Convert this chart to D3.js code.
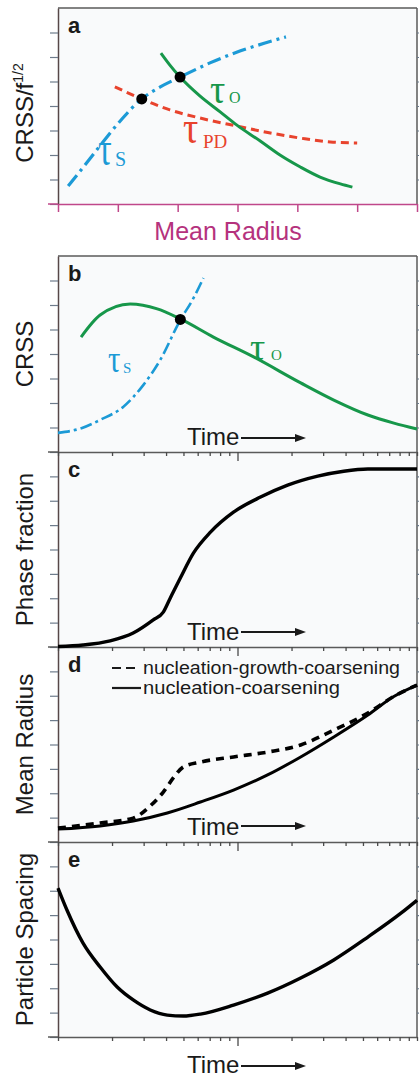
<!DOCTYPE html>
<html><head><meta charset="utf-8">
<script src="https://cdn.jsdelivr.net/npm/d3@7"></script>
<style>html,body{margin:0;padding:0;background:#fff;}svg{display:block}</style>
</head><body><svg id="chart" width="419" height="1079"></svg>
<script>
// ---------- data ----------
const radiusTicks = [0,1,2,3,4,5,6];
const levelTicks = [0,1,2,3,4,5,6,7];
const timeTicks = [1,2,3,4,5,6,7,8,9,10,20,30,40,50,60,70,80,90,100];

// panel a : CRSS/f^1/2 vs mean radius
const aTauS  = [[0.17,0.73],[0.45,1.59],[0.70,2.37],[1.04,3.39],[1.40,4.29],[1.71,4.78],[2.04,5.18],[2.54,5.76],[3.04,6.24],[3.46,6.57],[3.81,6.82]];
const aTauO  = [[1.72,6.16],[1.87,5.67],[2.04,5.18],[2.37,4.41],[2.71,3.76],[2.99,3.22],[3.38,2.57],[3.71,2.0],[4.05,1.51],[4.38,1.10],[4.72,0.82],[4.92,0.69]];
const aTauPD = [[0.95,4.78],[1.40,4.29],[1.87,3.84],[2.37,3.51],[2.99,3.18],[3.55,2.90],[4.05,2.69],[4.55,2.53],[5.0,2.49]];
const aDots  = [[1.40,4.29],[2.04,5.18]];

// panel b : CRSS vs time
const bTauS = [[1.0,0.78],[1.362,0.98],[1.717,1.31],[2.307,1.84],[2.985,2.73],[3.714,3.76],[4.803,5.39],[5.607,6.20],[6.458,7.10]];
const bTauO = [[1.344,4.69],[1.717,5.59],[2.525,6.04],[3.573,5.84],[4.803,5.43],[7.343,4.69],[12.29,3.88],[22.49,2.82],[34.39,2.12],[53.24,1.51],[74.36,1.18],[100,0.94]];
const bDots = [[4.803,5.41]];

// panel c : phase fraction
const cFrac = [[1.0,0.02],[1.379,0.08],[1.952,0.25],[2.624,0.57],[3.394,1.11],[3.860,1.43],[4.223,2.01],[4.803,2.83],[5.680,3.85],[7.068,4.71],[9.499,5.53],[13.44,6.15],[19.02,6.64],[27.99,7.01],[39.10,7.21],[53.24,7.30],[100,7.30]];

// panel d : mean radius
const dCoars = [[1.0,0.53],[1.717,0.66],[2.624,0.86],[4.063,1.19],[6.214,1.64],[9.499,2.13],[14.71,2.75],[22.49,3.49],[34.39,4.31],[53.24,5.21],[73.41,5.95],[100,6.44]];
const dGrowth = [[1.0,0.57],[1.717,0.78],[2.624,0.98],[3.266,1.48],[3.860,2.05],[4.389,2.63],[4.993,3.08],[6.214,3.28],[9.499,3.49],[14.71,3.69],[22.49,3.98],[34.39,4.59],[42.80,4.92],[53.24,5.29],[73.41,5.95],[100,6.44]];
const dLegend = ["nucleation-growth-coarsening","nucleation-coarsening"];

// panel e : particle spacing
const eSpacing = [[1.0,6.11],[1.123,5.20],[1.379,3.85],[1.717,2.87],[2.136,2.05],[2.624,1.52],[3.266,1.11],[4.063,0.90],[4.993,0.86],[6.214,0.94],[9.499,1.31],[14.71,1.80],[22.49,2.42],[34.39,3.16],[53.24,4.10],[81.38,5.08],[100,5.61]];

const panelLetters = ["a","b","c","d","e"];
const yLabels = ["CRSS/f","CRSS","Phase fraction","Mean Radius","Particle Spacing"];

// ---------- drawing ----------
const svg = d3.select("#chart");
const X0 = 58, X1 = 417;
const BLUE = "#1c9ad6", GREEN = "#17974a", RED = "#e8432d", PINK = "#c0478a";
const AXIS = "#574848", TICK = "#6e7c8c", FRAME = "#5a5a5a";
const SANS = "'Liberation Sans', Arial, sans-serif";
const SERIF = "'Liberation Serif', 'Times New Roman', serif";

svg.append("rect").attr("width",419).attr("height",1079).attr("fill","#fff");

const panels = [
  {top:8, bottom:204},
  {top:256, bottom:452},
  {top:452, bottom:647},
  {top:647, bottom:842},
  {top:842, bottom:1037}
];

const xr = d3.scaleLinear().domain([0,6]).range([X0,X1]);
const xt = d3.scaleLog().domain([1,100]).range([X0,X1]);

const yScales = panels.map(p => d3.scaleLinear().domain([0,8]).range([p.bottom,p.top]));

// backgrounds
panels.forEach(p => {
  svg.append("rect").attr("x",X0).attr("y",p.top).attr("width",X1-X0).attr("height",p.bottom-p.top)
     .attr("fill","#f9fafb");
});

// frames: top and right borders
panels.forEach((p,i) => {
  if (i<2) svg.append("line").attr("x1",X0).attr("x2",X1).attr("y1",p.top).attr("y2",p.top)
      .attr("stroke",FRAME).attr("stroke-width",1.5);
  svg.append("line").attr("x1",X1).attr("x2",X1).attr("y1",p.top).attr("y2",p.bottom)
      .attr("stroke",FRAME).attr("stroke-width",1.5);
  const ra = svg.append("g").attr("transform",`translate(${X1},0)`)
     .call(d3.axisRight(yScales[i]).tickValues(levelTicks.slice(1)).tickSize(4).tickSizeOuter(0).tickFormat(""));
  ra.select(".domain").remove();
  ra.selectAll(".tick line").attr("stroke",TICK).attr("stroke-width",1.2);
});

// left axes
panels.forEach((p,i) => {
  const ga = svg.append("g").attr("transform",`translate(${X0},0)`)
     .call(d3.axisLeft(yScales[i]).tickValues(levelTicks).tickSize(8).tickSizeOuter(0).tickFormat(""));
  ga.select(".domain").attr("stroke",AXIS).attr("stroke-width",1.5);
  ga.selectAll(".tick line").attr("stroke",TICK).attr("stroke-width",1.2);
});

// panel a bottom axis (pink)
{
  const p = panels[0];
  const g = svg.append("g").attr("transform",`translate(0,${p.bottom})`)
     .call(d3.axisBottom(xr).tickValues(radiusTicks).tickSize(8).tickSizeOuter(0).tickFormat(""));
  g.select(".domain").attr("stroke",PINK).attr("stroke-width",1.5);
  g.selectAll(".tick line").attr("stroke",PINK).attr("stroke-width",1.5);
  svg.append("line").attr("x1",X0-10).attr("x2",X0).attr("y1",p.bottom).attr("y2",p.bottom)
     .attr("stroke",PINK).attr("stroke-width",1.5);
  svg.append("text").attr("x",228).attr("y",240).attr("text-anchor","middle")
     .attr("font-family",SANS).attr("font-size",25).attr("fill","#b5327d").text("Mean Radius");
}

// time axes for panels b..e
panels.slice(1).forEach((p,k) => {
  const g = svg.append("g").attr("transform",`translate(0,${p.bottom})`)
     .call(d3.axisBottom(xt).tickValues(timeTicks).tickSize(4).tickSizeOuter(0).tickFormat(""));
  g.select(".domain").attr("stroke",FRAME).attr("stroke-width",1.5);
  g.selectAll(".tick line").attr("stroke","#4a4a4a").attr("stroke-width",1.3)
     .attr("y2", d => d===10 ? 9 : 4);
  svg.append("line").attr("x1",X0-10).attr("x2",X0).attr("y1",p.bottom).attr("y2",p.bottom)
     .attr("stroke",FRAME).attr("stroke-width",1.5);
});

// curves
function drawLine(data, xs, ys, color, width, dash, curve) {
  const line = d3.line().x(d=>xs(d[0])).y(d=>ys(d[1])).curve(curve || d3.curveMonotoneX);
  svg.append("path").datum(data).attr("d",line).attr("fill","none")
     .attr("stroke",color).attr("stroke-width",width)
     .attr("stroke-dasharray",dash || null).attr("stroke-linecap","butt").attr("stroke-linejoin","round");
}
function drawDots(data, xs, ys) {
  svg.selectAll(null).data(data).enter().append("circle")
     .attr("cx",d=>xs(d[0])).attr("cy",d=>ys(d[1])).attr("r",5.5).attr("fill","#000");
}

// panel a
drawLine(aTauPD, xr, yScales[0], RED, 3, "8,5");
drawLine(aTauS, xr, yScales[0], BLUE, 3.2, "14,5,3,5");
drawLine(aTauO, xr, yScales[0], GREEN, 3);
drawDots(aDots, xr, yScales[0]);

// panel b
drawLine(bTauO, xt, yScales[1], GREEN, 3);
drawLine(bTauS, xt, yScales[1], BLUE, 2.6, "12,4,3,4");
drawDots(bDots, xt, yScales[1]);

// panel c
drawLine(cFrac, xt, yScales[2], "#000", 3.4);

// panel d
drawLine(dGrowth, xt, yScales[3], "#000", 3.6, "8,6");
drawLine(dCoars, xt, yScales[3], "#000", 3);

// panel e
drawLine(eSpacing, xt, yScales[4], "#000", 3.4);

// tau labels (glyph stretched vertically like the original symbol font)
function tau(x, y, size, sy, color, sub, sx, sb, ssize) {
  svg.append("text").attr("transform",`translate(${x},${y}) scale(1,${sy})`)
     .attr("font-family",SERIF).attr("font-size",size).attr("fill",color).text("τ");
  svg.append("text").attr("x",sx).attr("y",sb).attr("font-family",SERIF).attr("font-size",ssize)
     .attr("fill",color).text(sub);
}
tau(98,165,34,1.4,BLUE,"S",115,166,20);
tau(210,103,38,1.1,GREEN,"O",229,103,16);
tau(183,143,38,1.2,RED,"PD",203,148,19);
tau(108,372,31,1.2,BLUE,"S",123,373,15);
tau(250,360,38,1.0,GREEN,"O",271,360,15);

// panel letters
panels.forEach((p,i) => {
  svg.append("text").attr("x",68).attr("y",p.top+25).attr("font-family",SANS)
     .attr("font-weight","bold").attr("font-size",22).attr("fill","#1a1a1a").text(panelLetters[i]);
});

// y labels
panels.forEach((p,i) => {
  const cy = i===0 ? 113 : (p.top+p.bottom)/2;
  const t = svg.append("text").attr("transform",`translate(33,${cy}) rotate(-90)`)
     .attr("text-anchor","middle").attr("font-family",SANS).attr("font-size",24).attr("fill","#1a1a1a");
  t.append("tspan").text(yLabels[i]);
  if (i===0) t.append("tspan").attr("font-size",14).attr("dy",-10).text("1/2");
});

// Time arrows
[{b:445,a:438},{b:640,a:632},{b:835,a:826},{b:1073,a:1066}].forEach(o => {
  svg.append("text").attr("x",187).attr("y",o.b).attr("font-family",SANS).attr("font-size",24)
     .attr("fill","#1a1a1a").text("Time");
  svg.append("line").attr("x1",241).attr("x2",298).attr("y1",o.a).attr("y2",o.a)
     .attr("stroke","#1a1a1a").attr("stroke-width",2);
  svg.append("path").attr("d",`M306,${o.a} L295,${o.a-4} L295,${o.a+4} Z`).attr("fill","#1a1a1a");
});

// legend in panel d
svg.append("line").attr("x1",112).attr("x2",140).attr("y1",668).attr("y2",668)
   .attr("stroke","#1a1a1a").attr("stroke-width",2.2).attr("stroke-dasharray","9,5");
svg.append("line").attr("x1",112).attr("x2",141).attr("y1",688).attr("y2",688)
   .attr("stroke","#1a1a1a").attr("stroke-width",2.2);
svg.append("text").attr("x",143).attr("y",673.5).attr("font-family",SANS).attr("font-size",17.5)
   .attr("textLength",257).attr("lengthAdjust","spacingAndGlyphs")
   .attr("fill","#1a1a1a").text(dLegend[0]);
svg.append("text").attr("x",143).attr("y",694).attr("font-family",SANS).attr("font-size",17.5)
   .attr("textLength",197).attr("lengthAdjust","spacingAndGlyphs")
   .attr("fill","#1a1a1a").text(dLegend[1]);
</script>
</body></html>
